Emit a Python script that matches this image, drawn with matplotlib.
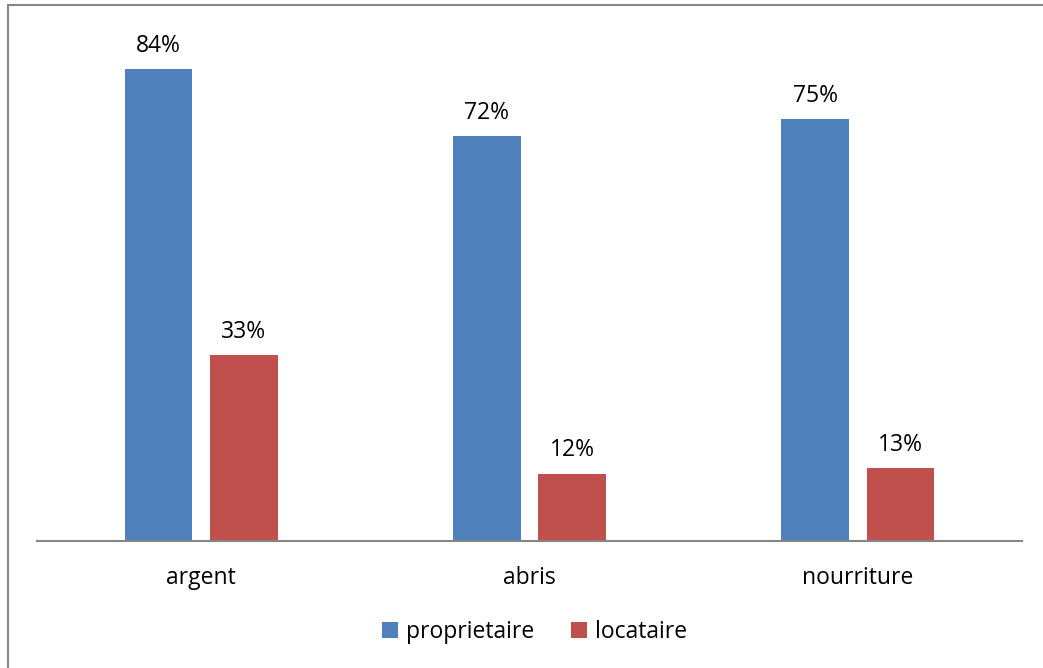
import matplotlib.pyplot as plt
import numpy as np
from matplotlib.patches import Rectangle

categories = ["argent", "abris", "nourriture"]
proprietaire = [84, 72, 75]
locataire = [33, 12, 13]
series_names = ["proprietaire", "locataire"]

BLUE = "#4f81bd"
RED = "#c0504d"
FS = 16.5

plt.rcParams["font.family"] = ["Open Sans", "DejaVu Sans"]

W, H = 1043, 668
fig = plt.figure(figsize=(W / 100, H / 100), dpi=100)

# plot area in pixel coords
left, right, top, bottom = 37, 1022, 35, 541
ax = fig.add_axes([left / W, 1 - bottom / H, (right - left) / W, (bottom - top) / H])

x = np.arange(len(categories))
width = 0.207
offset = 0.13

b1 = ax.bar(x - offset, proprietaire, width, color=BLUE, label=series_names[0])
b2 = ax.bar(x + offset, locataire, width, color=RED, label=series_names[1])

for bars, vals in ((b1, proprietaire), (b2, locataire)):
    for rect, v in zip(bars, vals):
        ax.annotate(f"{v}%", (rect.get_x() + rect.get_width() / 2, v),
                    xytext=(0, 8), textcoords="offset points",
                    ha="center", va="bottom", fontsize=FS, color="#000000")

ax.set_xlim(-0.5, len(categories) - 0.5)
ax.set_ylim(0, 90)
ax.set_yticks([])
ax.set_xticks(x)
ax.set_xticklabels(categories, fontsize=FS)
ax.tick_params(axis="x", length=0, pad=18)

for side in ("top", "right", "left"):
    ax.spines[side].set_visible(False)
ax.spines["bottom"].set_color("#868686")
ax.spines["bottom"].set_linewidth(1.5)

ax.legend(loc="center", bbox_to_anchor=(535 / W, 1 - 632 / H),
          bbox_transform=fig.transFigure, ncol=2, frameon=False,
          fontsize=FS, handlelength=0.7, handleheight=0.7,
          handletextpad=0.35, columnspacing=1.6)

# outer chart frame
fig.patches.append(Rectangle((8 / W, -0.05), 1.2, 1 - 5 / H + 0.05,
                             transform=fig.transFigure, fill=False,
                             edgecolor="#868686", linewidth=1.5))

fig.savefig("out.png", dpi=100)
